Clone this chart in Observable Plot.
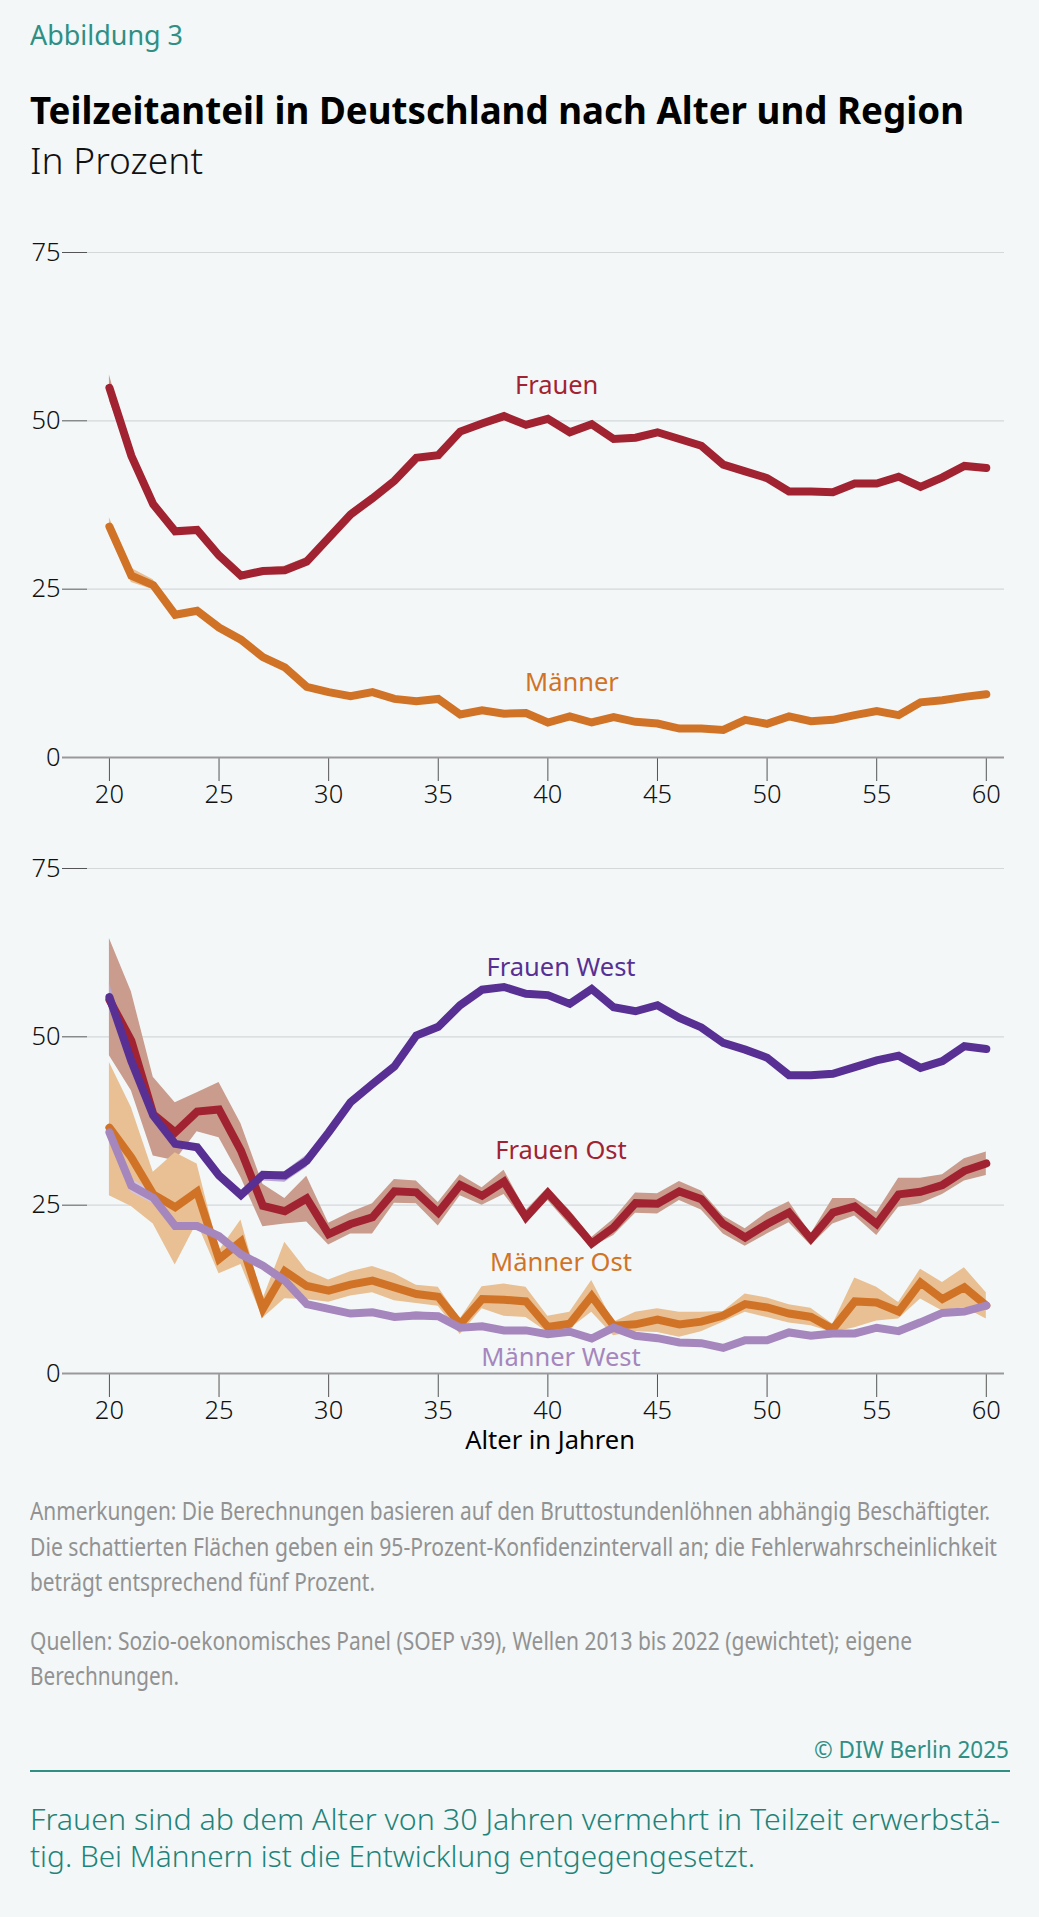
<!DOCTYPE html>
<html lang="de"><head><meta charset="utf-8">
<script src="https://cdn.jsdelivr.net/npm/d3@7"></script>
<script src="https://cdn.jsdelivr.net/npm/@observablehq/plot@0.6"></script>
<style>
html,body{margin:0;padding:0;background:#f3f7f8;width:1039px;height:1917px;overflow:hidden;font-family:"Noto Sans",sans-serif}
.t{position:absolute;left:29.5px;white-space:nowrap;transform-origin:0 50%;line-height:1;display:inline-block}
.note{color:#929292;font-size:25px;font-weight:400}
.teal{color:#2f8f85}
.panel{position:absolute;left:0}
svg{display:block;overflow:visible}
</style></head><body>
<div class="t teal" data-w="153" style="top:20px;font-size:28px">Abbildung 3</div>
<div class="t" data-w="934" style="top:91px;font-size:37px;font-weight:700;color:#000">Teilzeitanteil in Deutschland nach Alter und Region</div>
<div class="t" data-w="173" style="top:143px;font-size:36px;font-weight:300;color:#111">In Prozent</div>
<div class="panel" id="p1" style="top:230px"></div>
<div class="panel" id="p2" style="top:845px"></div>
<div class="t note" data-w="960" style="top:1498px">Anmerkungen: Die Berechnungen basieren auf den Bruttostundenlöhnen abhängig Beschäftigter.</div>
<div class="t note" data-w="967" style="top:1534px">Die schattierten Flächen geben ein 95-Prozent-Konfidenzintervall an; die Fehlerwahrscheinlichkeit</div>
<div class="t note" data-w="345" style="top:1569px">beträgt entsprechend fünf Prozent.</div>
<div class="t note" data-w="882" style="top:1628px">Quellen: Sozio-oekonomisches Panel (SOEP v39), Wellen 2013 bis 2022 (gewichtet); eigene</div>
<div class="t note" data-w="149" style="top:1663px">Berechnungen.</div>
<div class="t teal" data-w="195" style="left:814px;top:1738px;font-size:23px">© DIW Berlin 2025</div>
<div style="position:absolute;left:30px;top:1770px;width:980px;height:2px;background:#2f8f85"></div>
<div class="t teal" data-w="970" style="top:1804px;font-size:30px;font-weight:300;color:#1f8379">Frauen sind ab dem Alter von 30 Jahren vermehrt in Teilzeit erwerbstä-</div>
<div class="t teal" data-w="725" style="top:1841px;font-size:30px;font-weight:300;color:#1f8379">tig. Bei Männern ist die Entwicklung entgegengesetzt.</div>
<script>
const ages = d3.range(20, 61);
const xTicks = [20,25,30,35,40,45,50,55,60];
const yTicks = [0,25,50,75];

const frauen = [54.9,44.8,37.6,33.6,33.8,30.0,27.0,27.7,27.8,29.1,32.6,36.1,38.5,41.1,44.5,44.9,48.4,49.6,50.7,49.4,50.3,48.3,49.5,47.3,47.5,48.3,47.3,46.3,43.5,42.5,41.5,39.5,39.5,39.4,40.7,40.7,41.7,40.2,41.6,43.3,43.0];
const frauenHigh = [56.8,45.2,37.9,34.0,34.1,30.3,27.3,28.1,28.4,29.7,33.0,36.7,38.9,41.4,44.8,45.2,48.7,49.9,50.9,49.7,50.5,48.5,49.7,47.5,47.7,48.5,47.5,46.5,43.7,42.7,41.7,39.7,39.7,39.6,40.9,40.9,41.9,40.4,41.8,43.5,43.2];
const frauenLow = [53.0,44.4,37.3,33.3,33.5,29.7,26.6,27.3,27.2,28.7,32.2,35.7,38.2,40.8,44.2,44.6,48.1,49.3,50.5,49.1,50.1,48.1,49.3,47.1,47.3,48.1,47.1,46.1,43.3,42.3,41.3,39.3,39.3,39.2,40.5,40.5,41.5,40.0,41.4,43.1,42.8];

const maenner = [34.3,27.0,25.6,21.2,21.8,19.3,17.5,14.9,13.4,10.5,9.7,9.1,9.7,8.7,8.35,8.7,6.4,7.0,6.5,6.6,5.2,6.1,5.2,6.0,5.3,5.05,4.3,4.3,4.1,5.6,5.0,6.1,5.4,5.6,6.3,6.9,6.3,8.2,8.5,9.0,9.4];
const maennerHigh = [35.6,28.1,26.4,21.6,22.1,19.5,17.7,15.1,13.6,10.7,9.9,9.3,9.9,8.9,8.5,8.9,6.6,7.2,6.7,6.8,5.4,6.3,5.4,6.2,5.5,5.2,4.5,4.5,4.3,5.8,5.2,6.3,5.6,5.8,6.5,7.1,6.5,8.4,8.7,9.2,9.6];
const maennerLow = [33.0,26.0,24.9,20.8,21.5,19.1,17.3,14.7,13.2,10.3,9.5,8.9,9.5,8.5,8.2,8.5,6.2,6.8,6.3,6.4,5.0,5.9,5.0,5.8,5.1,4.9,4.1,4.1,3.9,5.4,4.8,5.9,5.2,5.4,6.1,6.7,6.1,8.0,8.3,8.8,9.2];

const frauenOst = [55.5,49.4,38.5,35.8,38.9,39.2,33.1,24.9,24.1,26.0,20.7,22.2,23.2,27.05,26.9,23.9,28.0,26.4,28.5,23.2,26.8,23.2,19.3,21.7,25.3,25.2,27.05,25.9,22.2,20.2,22.2,23.9,20.0,23.9,24.8,22.2,26.6,27.0,28.0,30.1,31.2];
const frauenOstHigh = [64.6,56.7,44.0,40.2,41.7,43.2,37.1,28.1,26.0,29.3,22.3,23.9,25.2,28.8,28.6,25.4,29.5,27.6,30.2,24.2,27.6,24.2,20.2,22.9,26.8,26.7,28.5,27.1,23.4,21.5,23.9,25.5,20.7,26.0,26.0,23.9,29.0,29.0,29.5,31.9,32.9];
const frauenOstLow = [47.2,42.0,32.3,31.6,35.9,35.0,29.1,21.8,22.2,22.5,19.1,20.7,20.7,25.3,25.2,21.9,26.4,25.0,26.6,22.4,25.7,22.0,18.7,20.5,23.8,23.7,25.7,24.3,20.7,18.9,20.7,22.4,19.0,22.2,23.4,20.5,24.7,25.2,26.6,28.6,29.4];

const maennerOst = [36.5,32.1,26.6,24.7,27.0,17.0,19.6,9.6,15.2,13.0,12.3,13.2,13.8,12.8,11.8,11.4,7.3,11.05,10.95,10.7,6.9,7.4,11.5,7.1,7.3,8.0,7.3,7.7,8.6,10.3,9.8,8.9,8.4,6.6,10.7,10.55,9.2,13.5,11.05,12.8,10.1];
const maennerOstHigh = [46.2,39.5,29.9,32.8,31.1,18.2,22.8,11.0,19.5,15.3,13.9,15.1,15.9,14.8,13.1,12.8,8.1,12.9,13.3,12.8,8.5,9.1,13.8,7.6,9.1,9.6,9.1,9.1,9.2,11.8,11.2,10.2,9.7,7.3,14.2,12.8,10.55,15.5,13.5,15.7,12.0];
const maennerOstLow = [26.4,24.8,22.2,16.1,22.4,14.8,16.2,8.2,11.1,11.0,10.6,11.5,12.0,10.8,10.4,10.0,5.8,9.6,8.5,8.3,6.1,6.6,9.1,5.6,6.2,6.1,5.4,6.2,7.6,9.1,8.3,7.5,7.1,6.1,6.8,7.8,8.1,11.05,9.3,9.8,8.1];

const frauenWest = [55.9,46.4,38.3,34.1,33.6,29.4,26.5,29.5,29.4,31.6,35.8,40.3,43.0,45.6,50.2,51.5,54.7,57.0,57.4,56.4,56.2,54.9,57.1,54.4,53.8,54.7,52.8,51.4,49.1,48.1,46.9,44.3,44.3,44.5,45.5,46.5,47.2,45.4,46.4,48.6,48.2];
const frauenWestHigh = [58.0,47.0,38.8,34.6,34.0,29.7,26.8,29.7,30.0,32.4,36.2,40.9,43.4,45.9,50.4,51.7,54.9,57.2,57.6,56.6,56.4,55.1,57.3,54.6,54.0,54.9,53.0,51.6,49.3,48.3,47.1,44.5,44.5,44.7,45.7,46.7,47.4,45.6,46.6,48.8,48.4];
const frauenWestLow = [54.0,45.8,37.8,33.6,33.2,29.1,26.2,28.6,28.4,30.6,35.4,39.7,42.6,45.3,50.0,51.3,54.5,56.8,57.2,56.2,56.0,54.7,56.9,54.2,53.6,54.5,52.6,51.2,48.9,47.9,46.7,44.1,44.1,44.3,45.3,46.3,47.0,45.2,46.2,48.4,48.0];

const maennerWest = [35.8,27.9,26.1,21.9,21.9,20.4,17.7,16.0,13.8,10.3,9.6,8.9,9.1,8.4,8.6,8.5,6.8,7.0,6.4,6.4,5.85,6.2,5.2,6.8,5.6,5.25,4.6,4.5,3.8,4.95,4.95,6.1,5.6,5.95,5.95,6.8,6.3,7.6,9.0,9.2,10.1];
const maennerWestHigh = [36.6,28.9,27.0,22.3,22.2,20.7,18.0,16.3,14.1,10.6,9.9,9.2,9.4,8.7,9.2,8.8,7.1,7.3,6.7,6.7,6.1,6.5,5.5,7.1,5.9,5.5,4.9,4.8,4.1,5.2,5.2,6.4,5.9,6.2,6.2,7.1,6.6,7.9,9.3,9.5,10.4];
const maennerWestLow = [34.8,26.9,25.2,21.5,21.6,20.1,17.4,15.7,13.5,10.0,9.3,8.6,8.8,8.1,8.0,8.2,6.5,6.7,6.1,6.1,5.6,5.9,4.9,6.5,5.3,5.0,4.3,4.2,3.5,4.7,4.7,5.8,5.3,5.7,5.7,6.5,6.0,7.3,8.7,8.9,9.8];

const red = "#a12331", orange = "#d17326", purple = "#582f93", lilac = "#a586bd";
const redBand = "#c99c8d", orangeBand = "#e8c093", purpleBand = "#b9a7d5", lilacBand = "#d3c6e2";

const table = (v, lo, hi) => ages.map((a, i) => ({age: a, v: v[i], lo: lo[i], hi: hi[i]}));
const band = (t, fill) => Plot.areaY(t, {x: "age", y1: "lo", y2: "hi", fill});
const curve = (t, stroke) => Plot.line(t, {x: "age", y: "v", stroke, strokeWidth: 8, strokeLinecap: "round", strokeLinejoin: "miter", strokeMiterlimit: 3});
const label = (text, x, y, fill) => Plot.text([text], {x: () => x, y: () => y, text: d => d, fill, fontSize: 25.5, fontWeight: 400});

function panel(height, marginTop, marginBottom, marks) {
  return Plot.plot({
    width: 1039, height, marginLeft: 87, marginRight: 35, marginTop, marginBottom,
    style: {background: "transparent", fontFamily: "'Noto Sans',sans-serif", fontWeight: 300, overflow: "visible"},
    x: {domain: [19, 60.83]},
    y: {domain: [0, 75]},
    marks: [
      Plot.ruleY([25, 50, 75], {stroke: "#d3d8db", strokeWidth: 1.2}),
      Plot.axisY({ticks: yTicks, tickSize: 25, tickPadding: 2, fontSize: 25.5, stroke: "#555", fill: "#111", label: null}),
      Plot.axisX({ticks: xTicks, tickSize: 24, tickPadding: 3, fontSize: 25.5, stroke: "#555", fill: "#111", label: null, tickFormat: d => String(d)}),
      ...marks,
      Plot.ruleY([0], {x1: 17.86, x2: 60.83, stroke: "#999", strokeWidth: 2})
    ]
  });
}

const tF = table(frauen, frauenLow, frauenHigh), tM = table(maenner, maennerLow, maennerHigh);
const tFO = table(frauenOst, frauenOstLow, frauenOstHigh), tMO = table(maennerOst, maennerOstLow, maennerOstHigh);
const tFW = table(frauenWest, frauenWestLow, frauenWestHigh), tMW = table(maennerWest, maennerWestLow, maennerWestHigh);

document.getElementById("p1").append(panel(590, 22, 63, [
  band(tF, redBand), band(tM, orangeBand),
  curve(tM, orange), curve(tF, red),
  label("Frauen", 40.4, 55.2, red),
  label("Männer", 41.1, 11.1, orange)
]));
document.getElementById("p2").append(panel(615, 23, 87, [
  band(tFO, redBand), band(tMO, orangeBand), band(tFW, purpleBand), band(tMW, lilacBand),
  curve(tMO, orange), curve(tFO, red), curve(tFW, purple), curve(tMW, lilac),
  label("Frauen West", 40.6, 60.3, purple),
  label("Frauen Ost", 40.6, 33.1, red),
  label("Männer Ost", 40.6, 16.4, orange),
  label("Männer West", 40.6, 2.4, lilac),
  Plot.text(["Alter in Jahren"], {x: () => 40.1, y: () => -10, text: d => d, fill: "#000", fontSize: 25.5, fontWeight: 400})
]));

// Fit each line of body text to its measured width in the reference.
document.querySelectorAll(".t").forEach(el => {
  const target = +el.dataset.w;
  const w = el.getBoundingClientRect().width;
  el.style.transform = `scaleX(${target / w})`;
});
</script>
</body></html>
